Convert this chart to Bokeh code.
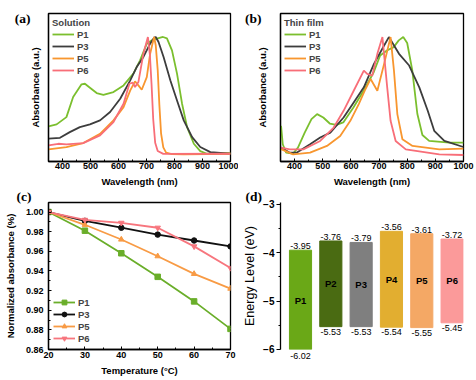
from bokeh.plotting import figure
from bokeh.layouts import column, row
from bokeh.models import Legend, LegendItem, Title, FixedTicker, PrintfTickFormatter, LinearAxis
from bokeh.embed import file_html
from bokeh.resources import INLINE

# ---------------- data ----------------
# (a) solution absorption (normalized)
sol_p1_x = [350, 379, 414, 438, 468, 480, 498, 522, 546, 582, 618, 653, 677, 701, 719, 737, 759, 773, 791, 809, 827, 845, 869, 892, 916, 1000]
sol_p1_y = [0.239, 0.256, 0.318, 0.489, 0.597, 0.602, 0.568, 0.523, 0.508, 0.531, 0.588, 0.688, 0.801, 0.943, 0.972, 0.986, 1.0, 0.989, 0.886, 0.688, 0.432, 0.233, 0.091, 0.028, 0.006, 0.011]
sol_p3_x = [350, 391, 426, 462, 498, 534, 570, 606, 642, 665, 689, 713, 727, 733, 743, 761, 785, 809, 833, 863, 892, 928, 1000]
sol_p3_y = [0.134, 0.142, 0.190, 0.233, 0.256, 0.290, 0.361, 0.474, 0.631, 0.744, 0.830, 0.943, 0.994, 1.0, 0.957, 0.830, 0.631, 0.460, 0.290, 0.148, 0.063, 0.020, 0.006]
sol_p5_x = [350, 414, 474, 534, 582, 618, 642, 659, 671, 683, 701, 713, 727, 733, 740, 746, 752, 760, 770, 790, 833, 1000]
sol_p5_y = [0.043, 0.063, 0.097, 0.176, 0.290, 0.403, 0.545, 0.622, 0.588, 0.551, 0.659, 0.858, 1.0, 0.93, 0.72, 0.42, 0.18, 0.06, 0.015, 0.003, 0.0, 0.006]
sol_p6_x = [350, 385, 414, 474, 534, 582, 618, 639, 651, 659, 671, 689, 705, 712, 718, 724, 731, 740, 760, 1000]
sol_p6_y = [0.077, 0.091, 0.085, 0.097, 0.162, 0.276, 0.432, 0.602, 0.611, 0.574, 0.616, 0.858, 1.0, 0.85, 0.60, 0.30, 0.10, 0.03, 0.005, 0.006]

# (b) thin film absorption (normalized)
film_p1_x = [352, 358, 370, 394, 412, 436, 460, 480, 502, 525, 549, 573, 609, 645, 681, 704, 728, 752, 770, 786, 800, 818, 836, 854, 878, 950, 1000]
film_p1_y = [0.247, 0.091, 0.020, 0.011, 0.063, 0.190, 0.304, 0.347, 0.318, 0.267, 0.256, 0.276, 0.403, 0.545, 0.702, 0.844, 0.886, 0.915, 0.972, 1.0, 0.95, 0.72, 0.35, 0.17, 0.12, 0.105, 0.105]
film_p3_x = [352, 383, 407, 455, 491, 527, 574, 610, 646, 682, 718, 735, 771, 807, 843, 873, 896, 932, 1000]
film_p3_y = [0.063, 0.020, 0.020, 0.091, 0.148, 0.190, 0.318, 0.446, 0.574, 0.773, 0.929, 1.0, 0.858, 0.759, 0.574, 0.375, 0.205, 0.119, 0.068]
film_p5_x = [352, 395, 455, 515, 562, 598, 628, 652, 670, 694, 718, 741, 753, 765, 783, 819, 914, 1000]
film_p5_y = [0.05, 0.006, 0.020, 0.077, 0.162, 0.290, 0.432, 0.560, 0.645, 0.545, 0.773, 1.0, 0.716, 0.347, 0.134, 0.077, 0.048, 0.054]
film_p6_x = [352, 383, 431, 491, 539, 574, 610, 646, 658, 676, 694, 712, 729, 741, 759, 795, 914, 1000]
film_p6_y = [0.063, 0.048, 0.048, 0.119, 0.233, 0.375, 0.545, 0.716, 0.688, 0.673, 0.858, 1.0, 0.574, 0.290, 0.119, 0.048, 0.006, 0.0]

# (c) thermal stability
temps = [20, 30, 40, 50, 60, 70]
norm_p1 = [1.000, 0.981, 0.958, 0.934, 0.909, 0.881]
norm_p3 = [1.000, 0.991, 0.984, 0.977, 0.971, 0.965]
norm_p5 = [1.000, 0.987, 0.972, 0.955, 0.937, 0.922]
norm_p6 = [1.000, 0.992, 0.989, 0.984, 0.965, 0.943]

# (d) energy levels
polymers = ["P1", "P2", "P3", "P4", "P5", "P6"]
lumo = [-3.95, -3.76, -3.79, -3.56, -3.61, -3.72]
homo = [-6.02, -5.53, -5.53, -5.54, -5.55, -5.45]
bar_colors = ["#6aa817", "#4a6b12", "#7f7f7f", "#e2ae30", "#f4a865", "#fb9a9a"]

wl_ticks = [400, 500, 600, 700, 800, 900, 1000]
wl_minor = [350, 450, 550, 650, 750, 850, 950]
t_ticks = [20, 30, 40, 50, 60, 70]
t_minor = [25, 35, 45, 55, 65]
n_ticks = [0.86, 0.88, 0.90, 0.92, 0.94, 0.96, 0.98, 1.00]
n_minor = [0.87, 0.89, 0.91, 0.93, 0.95, 0.97, 0.99]
e_ticks = [-6, -5, -4, -3]
e_minor = [-5.5, -4.5, -3.5]
panel_letters = ["(a)", "(b)", "(c)", "(d)"]
letter_y = 1.16  # height of the (a)/(b) letters on the absorbance scale

C_P1 = "#7bbf2e"
C_P3 = "#3d3d3d"
C_P5 = "#f8962f"
C_P6 = "#f86e78"

FONT = "Liberation Sans"
SERIF = "Liberation Serif"


def base_fig(fw, fh, left, right, top, bottom, **kw):
    return figure(frame_width=fw, frame_height=fh, output_backend="svg", toolbar_location=None,
                  min_border_left=left, min_border_right=right,
                  min_border_top=top, min_border_bottom=bottom, **kw)


def style_axis(ax, size="9px"):
    ax.major_label_text_font = FONT
    ax.major_label_text_font_style = "bold"
    ax.major_label_text_font_size = size
    ax.major_label_text_color = "black"
    ax.axis_label_text_font = FONT
    ax.axis_label_text_font_style = "bold"
    ax.axis_label_text_font_size = "9.5px"
    ax.axis_label_text_color = "black"
    ax.axis_line_color = "black"
    ax.axis_line_width = 1.3
    ax.major_tick_line_color = "black"
    ax.minor_tick_line_color = "black"
    ax.major_tick_in = 3
    ax.major_tick_out = 0
    ax.minor_tick_in = 2
    ax.minor_tick_out = 0


def letter_axis(p, txt, standoff):
    ax = LinearAxis(ticker=FixedTicker(ticks=[letter_y], minor_ticks=[]),
                    major_label_overrides={letter_y: txt},
                    axis_line_color=None, major_tick_line_color=None, minor_tick_line_color=None,
                    major_tick_in=0, major_tick_out=0, minor_tick_in=0, minor_tick_out=0,
                    major_label_standoff=standoff,
                    major_label_text_font=SERIF, major_label_text_font_style="bold",
                    major_label_text_font_size="13.5px", major_label_text_color="black")
    p.add_layout(ax, "left")


def spectra(fw, left, right, ylow, curves, title, lab_standoff):
    p = base_fig(fw, 148, left, right, 13, 26, x_range=(350, 1000), y_range=(ylow, 1.2))
    p.grid.visible = False
    p.outline_line_color = "black"
    p.outline_line_width = 1.3
    p.outline_line_alpha = 1
    style_axis(p.xaxis[0])
    style_axis(p.yaxis[0])
    p.xaxis.ticker = FixedTicker(ticks=wl_ticks, minor_ticks=wl_minor)
    p.xaxis.axis_label = "Wavelength (nm)"
    p.xaxis.major_label_standoff = 1
    p.xaxis.axis_label_standoff = 4
    p.yaxis.ticker = FixedTicker(ticks=[], minor_ticks=[])
    p.yaxis.axis_label = "Absorbance (a.u.)"
    p.yaxis.major_label_standoff = 0
    p.yaxis.axis_label_standoff = lab_standoff
    items = []
    for name, xs, ys, col in curves:
        r = p.line(xs, ys, line_color=col, line_width=1.8)
        items.append(LegendItem(label=name, renderers=[r]))
    leg = Legend(items=items, title=title, location="top_left",
                 title_text_font=FONT, title_text_font_style="bold", title_text_font_size="9.5px",
                 label_text_font=FONT, label_text_font_style="bold", label_text_font_size="9.5px",
                 border_line_color=None, background_fill_alpha=0,
                 glyph_width=22, glyph_height=12, label_height=12, label_standoff=3,
                 spacing=0, padding=4, margin=4, title_standoff=0)
    p.add_layout(leg)
    return p


pa = spectra(182, 48, 8, -0.06,
             [("P1", sol_p1_x, sol_p1_y, C_P1), ("P3", sol_p3_x, sol_p3_y, C_P3),
              ("P5", sol_p5_x, sol_p5_y, C_P5), ("P6", sol_p6_x, sol_p6_y, C_P6)],
             "Solution", 8)
letter_axis(pa, panel_letters[0], -4)

pb = spectra(183, 42, 13, -0.055,
             [("P1", film_p1_x, film_p1_y, C_P1), ("P3", film_p3_x, film_p3_y, C_P3),
              ("P5", film_p5_x, film_p5_y, C_P5), ("P6", film_p6_x, film_p6_y, C_P6)],
             "Thin film", 13)
letter_axis(pb, panel_letters[1], -8)


def letter_title(p, txt, offset):
    p.add_layout(Title(text=txt, align="left", offset=offset, standoff=-4, vertical_align="middle",
                       text_font=SERIF, text_font_style="bold", text_font_size="13.5px",
                       text_color="black"), "above")


# (c)
pc = base_fig(182, 147, 48, 8, 12, 33, x_range=(20, 70), y_range=(0.86, 1.0097))
pc.grid.visible = False
pc.outline_line_color = "black"
pc.outline_line_width = 1.3
pc.outline_line_alpha = 1
style_axis(pc.xaxis[0])
style_axis(pc.yaxis[0])
pc.xaxis.ticker = FixedTicker(ticks=t_ticks, minor_ticks=t_minor)
pc.xaxis.axis_label = "Temperature (°C)"
pc.xaxis.major_label_standoff = 2
pc.xaxis.axis_label_standoff = 4
pc.yaxis.ticker = FixedTicker(ticks=n_ticks, minor_ticks=n_minor)
pc.yaxis.formatter = PrintfTickFormatter(format="%.2f")
pc.yaxis.axis_label = "Normalized absorbance (%)"
pc.yaxis.major_label_standoff = 5
pc.yaxis.axis_label_standoff = 7
letter_title(pc, panel_letters[2], -32)
citems = []
for name, ys, col, mk in [("P1", norm_p1, "#6aae2a", "square"), ("P3", norm_p3, "#111111", "circle"),
                          ("P5", norm_p5, "#f89b45", "triangle"), ("P6", norm_p6, "#f7767e", "inverted_triangle")]:
    rl = pc.line(temps, ys, line_color=col, line_width=1.8)
    rm = pc.scatter(temps, ys, marker=mk, size=5.5, fill_color=col, line_color=col)
    citems.append(LegendItem(label=name, renderers=[rl, rm]))
cleg = Legend(items=citems, location="bottom_left",
              label_text_font=FONT, label_text_font_style="bold", label_text_font_size="9.5px",
              border_line_color=None, background_fill_alpha=0,
              glyph_width=22, glyph_height=12, label_height=12, label_standoff=3,
              spacing=0, padding=6, margin=5)
pc.add_layout(cleg)

# (d)  -- same frame height as (c), so the row layout stays consistent
E_LOW, E_HIGH = -6.002, -2.965
xpos = list(range(1, len(polymers) + 1))
pd_ = base_fig(183, 147, 42, 13, 12, 33, x_range=(0.34, 6.376), y_range=(E_LOW, E_HIGH),
               x_axis_location=None)
pd_.grid.visible = False
pd_.outline_line_color = None
letter_title(pd_, panel_letters[3], -35)
ya = pd_.yaxis[0]
ya.ticker = FixedTicker(ticks=e_ticks, minor_ticks=e_minor)
ya.major_label_text_font = FONT
ya.major_label_text_font_style = "bold"
ya.major_label_text_font_size = "10px"
ya.major_label_text_color = "black"
ya.axis_label = "Energy Level (eV)"
ya.axis_label_text_font = FONT
ya.axis_label_text_font_style = "normal"
ya.axis_label_text_font_size = "12.5px"
ya.axis_label_text_color = "black"
ya.axis_line_width = 1.3
ya.axis_line_color = "black"
ya.major_tick_line_color = "black"
ya.minor_tick_line_color = "black"
ya.major_tick_in = 0
ya.major_tick_out = 4
ya.minor_tick_in = 0
ya.minor_tick_out = 2
ya.major_label_standoff = 2
ya.axis_label_standoff = 3
mid = [(a + b) / 2 for a, b in zip(lumo, homo)]
pd_.vbar(x=xpos, bottom=homo, top=lumo, width=0.73, fill_color=bar_colors, line_color=bar_colors)
pd_.text(x=xpos, y=lumo, text=[f"{v:.2f}" for v in lumo], text_align="center", text_baseline="bottom",
         y_offset=-1, text_font_size="9px", text_font={"value": FONT}, text_color="black")
# HOMO labels: those that fall below the frame are shown by an axis below the bars
low = [h - 0.25 < E_LOW for h in homo]
in_x = [x for x, l in zip(xpos, low) if not l]
in_h = [h for h, l in zip(homo, low) if not l]
pd_.text(x=in_x, y=in_h, text=[f"{v:.2f}" for v in in_h], text_align="center", text_baseline="top",
         y_offset=2, text_font_size="9px", text_font={"value": FONT}, text_color="black")
out_x = [x for x, l in zip(xpos, low) if l]
out_h = [h for h, l in zip(homo, low) if l]
homo_axis = LinearAxis(ticker=FixedTicker(ticks=out_x, minor_ticks=[]),
                       major_label_overrides={x: f"{h:.2f}" for x, h in zip(out_x, out_h)},
                       axis_line_color=None, major_tick_line_color=None, minor_tick_line_color=None,
                       major_tick_in=0, major_tick_out=0, minor_tick_in=0, minor_tick_out=0,
                       major_label_standoff=3, major_label_text_font=FONT,
                       major_label_text_font_size="9px", major_label_text_color="black")
pd_.add_layout(homo_axis, "below")
pd_.text(x=xpos, y=mid, text=polymers, text_align="center", text_baseline="middle",
         text_font_size="9.5px", text_font={"value": FONT}, text_font_style="bold", text_color="black")

layout = column(row(pa, pb), row(pc, pd_))
open("out.html", "w").write(file_html(layout, INLINE))
